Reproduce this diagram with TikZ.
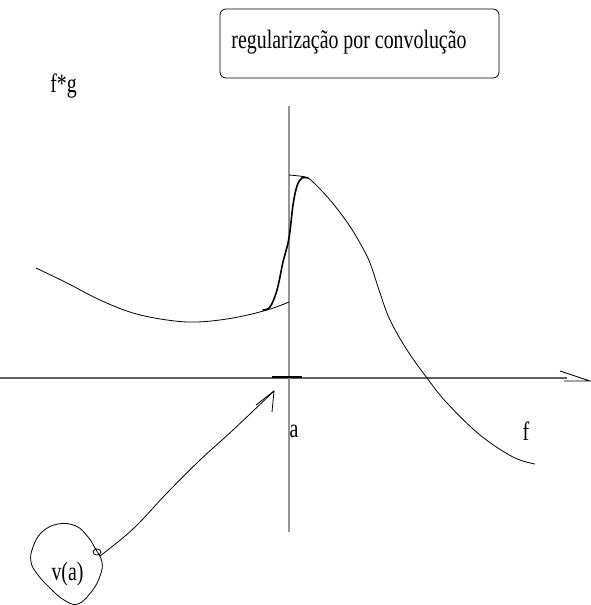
\documentclass[tikz,border=0pt]{standalone}
\usepackage{fontspec}
\setmainfont{Liberation Serif}
\usepackage{graphicx}
\newcommand{\cnd}[1]{\scalebox{0.75}[1]{#1}}
\tikzset{
  lbl/.style={font=\fontsize{26.5}{26.5}\selectfont, inner sep=0pt, anchor=base},
  thincurve/.style={line width=0.8pt, black},
  thickcurve/.style={line width=1.6pt, black, line cap=round},
  haxis/.style={line width=1.4pt, black!62},
  vaxis/.style={line width=1.3pt, black!42},
  barb/.style={line width=0.8pt, black},
}
\begin{document}
\begin{tikzpicture}[x=1pt,y=-1pt]
\useasboundingbox (0,0) rectangle (590,605);
% title box
\node[draw, rounded corners=6pt, line width=0.8pt, minimum width=279pt, minimum height=69pt, inner sep=0pt] (box) at (359.5,43.5) {};
\node[lbl] (title) at (349,48) {\cnd{regularização por convolução}};
% labels
\node[lbl] (fg) at (63.5,92) {\cnd{f*g}};
\node[lbl] (alab) at (294,437) {\cnd{a}};
\node[lbl] (flab) at (526,440) {\cnd{f}};
\node[lbl] (va) at (67.5,580) {\cnd{v(a)}};
% axes
\coordinate (hl) at (0,378);
\coordinate (hr) at (567,378);
\draw[haxis] (hl) -- (hr);
\coordinate (atip) at (590,381);
\coordinate (ab1) at (560,371);
\coordinate (ab2) at (564,381);
\draw[barb] (ab1) -- (atip) -- (ab2);
\coordinate (vt) at (289,106);
\coordinate (vb) at (289,532);
\draw[vaxis] (vt) -- (vb);
% tick at a
\coordinate (t1) at (272,377);
\coordinate (t2) at (302,377);
\draw[line width=2.6pt, black] (t1) -- (t2);
% left branch of f
\draw[thincurve] plot[smooth, tension=0.6] coordinates {(36,268) (67,283) (100,300) (133,313) (167,320) (197,322) (233,318) (267,310) (289,302)};
% right branch of f
\draw[thincurve] plot[smooth, tension=0.6] coordinates {(289,175) (305,177) (313,182) (330,200) (347,222) (360,243) (370,263) (380,293) (390,320) (407,350) (427,378) (447,403) (480,435) (513,457) (535,464)};
% regularized curve
\draw[thickcurve] plot[smooth, tension=0.6] coordinates {(263,310) (270,307) (277,290) (283,262) (289,238) (293,205) (297,186) (302,178) (308,178)};
% blob around v(a)
\draw[thincurve] plot[smooth cycle, tension=0.7] coordinates {(58,524) (76,526) (88,537) (95,548) (102,562) (100,576) (92,591) (78,604) (64,600) (50,588) (38,575) (31,562) (33,547) (42,532)};
\draw[thincurve] (97,552) ellipse (4 and 3);
% connector v(a) -> a
\coordinate (cs) at (100,556);
\coordinate (ctip) at (274,391);
\draw[thincurve] plot[smooth, tension=0.6] coordinates {(cs) (133,529) (167,493) (200,460) (233,430) (ctip)};
\coordinate (cb1) at (256,405);
\coordinate (cb2) at (272,412);
\draw[barb] (cb1) -- (ctip) -- (cb2);
\end{tikzpicture}
\end{document}
